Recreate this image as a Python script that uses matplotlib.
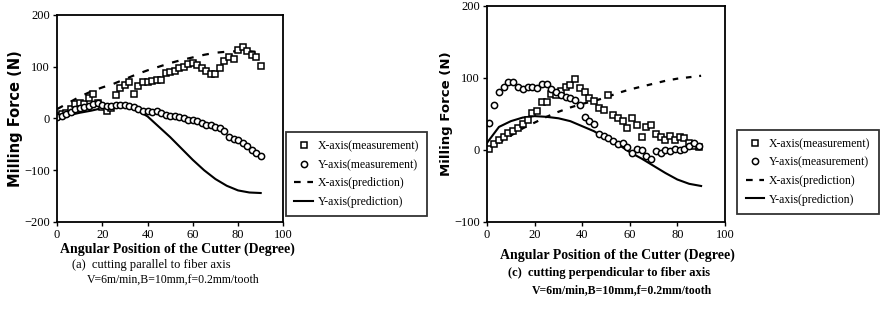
import matplotlib
matplotlib.use("Agg")
import matplotlib.pyplot as plt
from matplotlib.lines import Line2D

# ---------------------------------------------------------------------------
# datos
# ---------------------------------------------------------------------------
# (a) corte paralelo a la fibra
a_meas_x = [0, 2, 4, 6, 8, 10, 12, 14, 16, 18, 20, 22, 24, 26, 28, 30, 32, 34,
            36, 38, 40, 42, 44, 46, 48, 50, 52, 54, 56, 58, 60, 62, 64, 66, 68,
            70, 72, 74, 76, 78, 80, 82, 84, 86, 88, 90]
a_x_meas = [5, 8, 10, 18, 28, 30, 28, 40, 48, 30, 22, 15, 20, 45, 58, 65, 70, 48,
            62, 70, 70, 72, 75, 75, 88, 90, 92, 97, 100, 106, 107, 104, 98, 92,
            86, 85, 98, 112, 118, 115, 132, 138, 130, 122, 118, 102]
a_y_meas = [3, 5, 8, 12, 18, 20, 22, 24, 28, 30, 26, 24, 25, 26, 26, 27, 25, 22,
            18, 15, 14, 12, 14, 10, 7, 5, 4, 2, 0, -2, -3, -5, -8, -12, -12,
            -16, -18, -24, -35, -40, -42, -48, -54, -60, -66, -72]
a_pred_x = [0, 5, 10, 15, 20, 25, 30, 35, 40, 45, 50, 55, 60, 65, 70, 75, 80, 85, 90]
a_x_pred = [18, 30, 42, 52, 60, 67, 76, 85, 93, 100, 107, 113, 118, 123, 127,
            129, 130, 130, 128]
a_y_pred = [0, 6, 11, 15, 20, 23, 24, 17, 4, -16, -36, -58, -80, -100, -117,
            -130, -139, -143, -144]

# (c) corte perpendicular a la fibra
c_meas_x = [1, 3, 5, 7, 9, 11, 13, 15, 17, 19, 21, 23, 25, 27, 29, 31, 33, 35,
            37, 39, 41, 43, 45, 47, 49, 51, 53, 55, 57, 59, 61, 63, 65, 67, 69,
            71, 73, 75, 77, 79, 81, 83, 85, 87, 89]
c_x_meas = [2, 8, 14, 18, 24, 27, 30, 36, 42, 52, 54, 66, 66, 78, 76, 82, 88, 90,
            98, 86, 80, 72, 68, 58, 56, 76, 48, 44, 40, 30, 44, 34, 18, 32, 34,
            22, 18, 14, 20, 14, 18, 16, 10, 6, 4]
c_y_meas = [38, 62, 80, 88, 95, 94, 88, 85, 88, 88, 86, 92, 92, 84, 80, 76, 74, 72,
            70, 62, 46, 40, 36, 22, 20, 16, 12, 8, 10, 4, -4, 2, 0, -8, -12,
            -2, -4, 0, -2, 2, 0, 2, 6, 10, 6]
c_pred_x = [0, 5, 10, 15, 20, 25, 30, 35, 40, 45, 50, 55, 60, 65, 70, 75, 80, 85, 90]
c_x_pred = [0, 10, 20, 30, 38, 46, 53, 59, 64, 68, 73, 79, 84, 88, 92, 96, 99,
            101, 103]
c_y_pred = [10, 32, 40, 45, 47, 46, 44, 40, 33, 26, 16, 8, -3, -12, -22, -32,
            -41, -47, -50]

labels = ["X-axis(measurement)", "Y-axis(measurement)",
          "X-axis(prediction)", "Y-axis(prediction)"]

SERIF = "Liberation Serif"

fig = plt.figure(figsize=(8.84, 3.23), dpi=100)
ax1 = fig.add_axes([0.0645, 0.3127, 0.256, 0.641])
ax2 = fig.add_axes([0.551, 0.3127, 0.269, 0.669])

mk = dict(ms=4.5, mfc="white", mec="black", mew=1.1, ls="none")


def dibujar(ax, mx, xm, ym, px, xp, yp, dash):
    ax.plot(px, xp, color="black", lw=1.6, ls=(0, dash))
    ax.plot(px, yp, color="black", lw=1.5)
    ax.plot(mx, xm, marker="s", **mk)
    ax.plot(mx, ym, marker="o", **mk)
    ax.set_xlim(0, 100)
    ax.set_xticks([0, 20, 40, 60, 80, 100])
    for s in ax.spines.values():
        s.set_linewidth(1.3)
    ax.tick_params(direction="out", length=3, width=1, labelsize=9, pad=2)
    for t in ax.get_xticklabels() + ax.get_yticklabels():
        t.set_fontfamily(SERIF)


dibujar(ax1, a_meas_x, a_x_meas, a_y_meas, a_pred_x, a_x_pred, a_y_pred, (3, 4))
ax1.set_ylim(-200, 200)
ax1.set_yticks([-200, -100, 0, 100, 200])
ax1.set_ylabel("Milling Force (N)", fontsize=10.5, fontweight="bold", labelpad=1)

dibujar(ax2, c_meas_x, c_x_meas, c_y_meas, c_pred_x, c_x_pred, c_y_pred, (2.5, 3.5))
ax2.set_ylim(-100, 200)
ax2.set_yticks([-100, 0, 100, 200])
ax2.set_ylabel("Milling Force (N)", fontsize=9.5, fontweight="bold", labelpad=1)

# leyendas
handles = [
    Line2D([], [], marker="s", **mk),
    Line2D([], [], marker="o", **mk),
    Line2D([], [], color="black", lw=1.6, ls=(0, (3, 3))),
    Line2D([], [], color="black", lw=1.5),
]
for x0, y1 in [(0.3235, 0.591), (0.834, 0.598)]:
    lg = fig.legend(handles, labels, loc="upper left", bbox_to_anchor=(x0, y1),
                    prop={"family": SERIF, "size": 8.5}, frameon=True,
                    fancybox=False, edgecolor="black", handlelength=1.6,
                    handletextpad=0.4, labelspacing=0.55, borderpad=0.7,
                    borderaxespad=0)
    lg.get_frame().set_linewidth(1.3)

# rotulos de eje x y pies de figura
fig.text(177 / 884, 1 - 249 / 323, "Angular Position of the Cutter (Degree)",
         family=SERIF, fontsize=10, fontweight="bold", ha="center", va="center")
fig.text(617 / 884, 1 - 255 / 323, "Angular Position of the Cutter (Degree)",
         family=SERIF, fontsize=10, fontweight="bold", ha="center", va="center")
fig.text(72 / 884, 1 - 265 / 323, "(a)  cutting parallel to fiber axis",
         family=SERIF, fontsize=9, va="center")
fig.text(87 / 884, 1 - 280 / 323, "V=6m/min,B=10mm,f=0.2mm/tooth",
         family=SERIF, fontsize=8.5, va="center")
fig.text(508 / 884, 1 - 273 / 323, "(c)  cutting perpendicular to fiber axis",
         family=SERIF, fontsize=9, fontweight="bold", va="center")
fig.text(532 / 884, 1 - 290 / 323, "V=6m/min,B=10mm,f=0.2mm/tooth",
         family=SERIF, fontsize=8.5, fontweight="bold", va="center")

fig.savefig("out.png", dpi=100)
